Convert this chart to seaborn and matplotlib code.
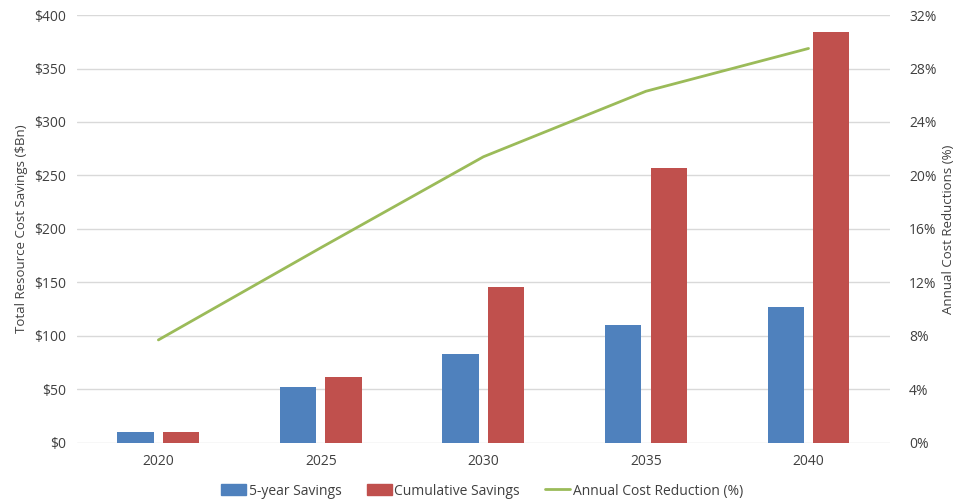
import matplotlib.pyplot as plt
import matplotlib.ticker as mticker
from matplotlib.patches import Patch
from matplotlib.lines import Line2D
import seaborn as sns
import pandas as pd
import numpy as np

years = ["2020", "2025", "2030", "2035", "2040"]
five_year = [10, 52, 83, 110, 127]
cumulative = [10, 62, 146, 257, 384]
annual_reduction = [7.7, 14.6, 21.4, 26.3, 29.5]

blue = "#4F81BD"
red = "#C0504D"
green = "#9BBB59"
txt = "#404040"

sns.set_style("white")
plt.rcParams["font.family"] = ["Open Sans", "DejaVu Sans"]

df = pd.DataFrame({
    "year": years * 2,
    "value": five_year + cumulative,
    "series": ["5-year Savings"] * 5 + ["Cumulative Savings"] * 5,
})

fig, ax = plt.subplots(figsize=(9.64, 5.01), dpi=100)
fig.subplots_adjust(left=0.08, right=0.923, top=0.97, bottom=0.116)

sns.barplot(data=df, x="year", y="value", hue="series", palette=[blue, red],
            width=0.56, gap=0.2, ax=ax, legend=False, saturation=1, linewidth=0)
ax.set_ylim(0, 400)
ax.set_xlim(-0.5, 4.5)
ax.yaxis.set_major_locator(mticker.MultipleLocator(50))
ax.yaxis.set_major_formatter(mticker.FuncFormatter(lambda v, p: f"${v:.0f}"))
ax.grid(axis="y", color="#D9D9D9", linewidth=1)
ax.set_axisbelow(True)
ax.set_xlabel("")
ax.set_ylabel("Total Resource Cost Savings ($Bn)", fontsize=9.5, color=txt)
ax.tick_params(axis="both", length=0, labelsize=10, colors=txt, pad=8)
for s in ax.spines.values():
    s.set_visible(False)

ax2 = ax.twinx()
sns.lineplot(x=np.arange(len(years)), y=annual_reduction, color=green,
             linewidth=2, ax=ax2)
ax2.set_ylim(0, 32)
ax2.yaxis.set_major_locator(mticker.MultipleLocator(4))
ax2.yaxis.set_major_formatter(mticker.FuncFormatter(lambda v, p: f"{v:.0f}%"))
ax2.set_ylabel("Annual Cost Reductions (%)", fontsize=9.5, color=txt, labelpad=4)
ax2.tick_params(axis="y", length=0, labelsize=10, colors=txt, pad=14)
for s in ax2.spines.values():
    s.set_visible(False)

handles = [
    Patch(color=blue, label="5-year Savings"),
    Patch(color=red, label="Cumulative Savings"),
    Line2D([0], [0], color=green, linewidth=2, label="Annual Cost Reduction (%)"),
]
leg = fig.legend(handles=handles, loc="lower center", ncol=3, frameon=False,
                 fontsize=10, bbox_to_anchor=(0.5, -0.02), handlelength=1.8,
                 handleheight=0.8, handletextpad=0.2, columnspacing=1.8)
for t in leg.get_texts():
    t.set_color(txt)

fig.savefig("out.png", dpi=100)
